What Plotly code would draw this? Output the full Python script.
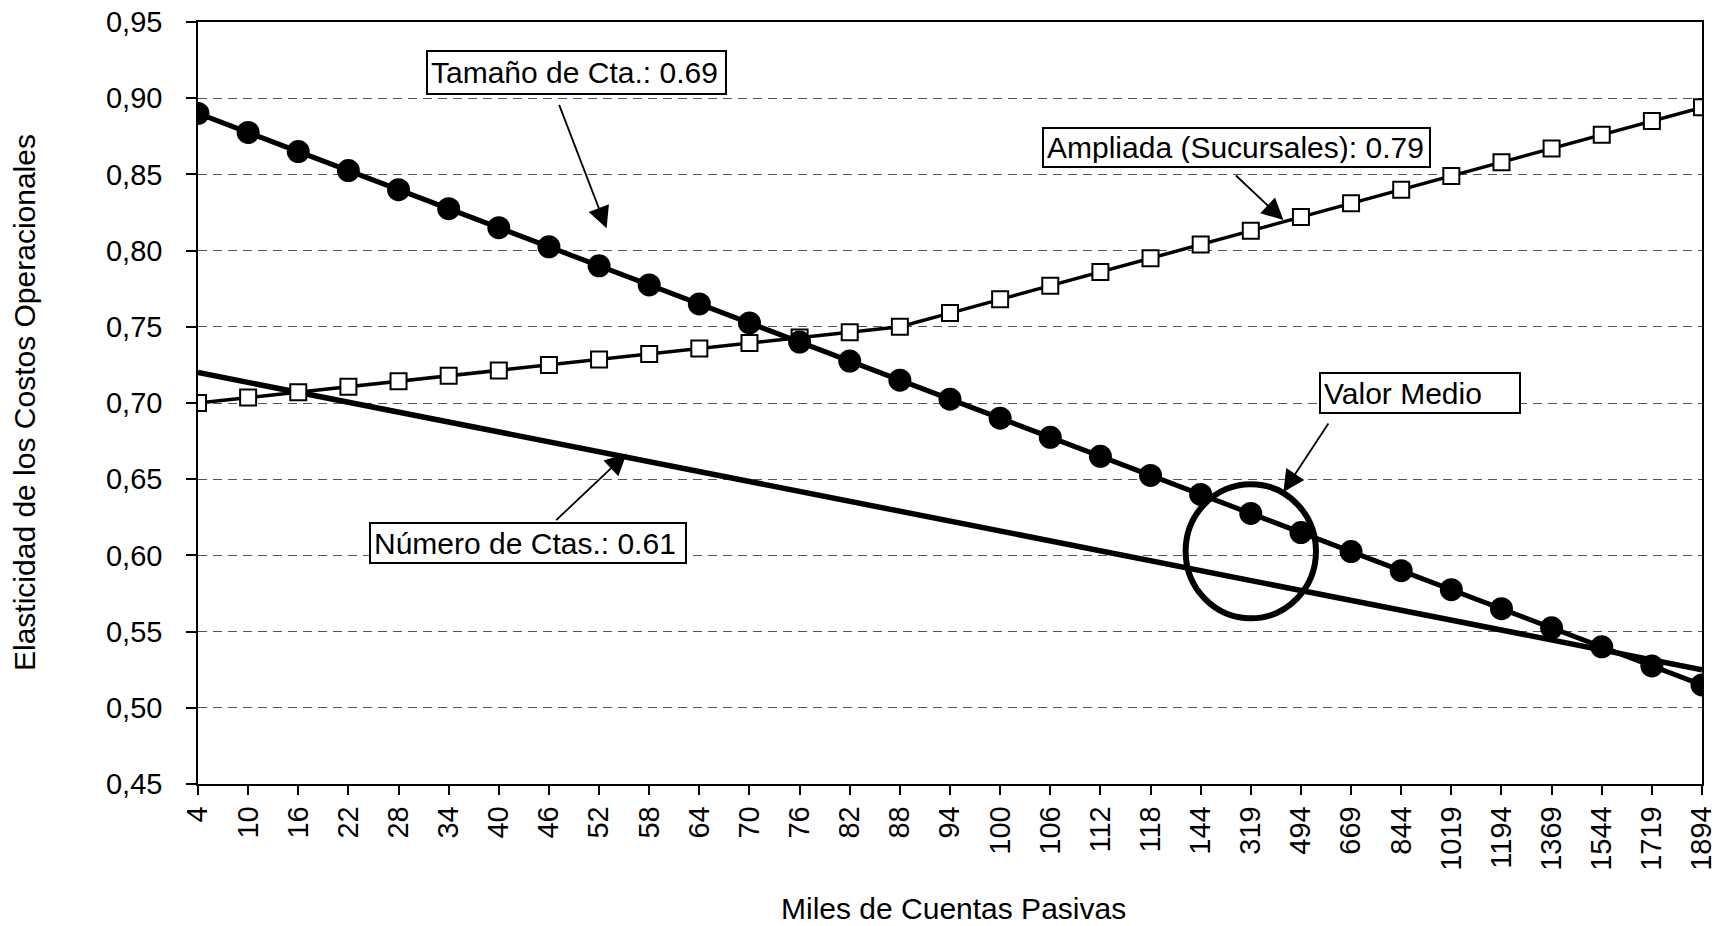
import plotly.graph_objects as go

# ---- data ----
categorias = ["4", "10", "16", "22", "28", "34", "40", "46", "52", "58", "64", "70", "76", "82",
              "88", "94", "100", "106", "112", "118", "144", "319", "494", "669", "844", "1019",
              "1194", "1369", "1544", "1719", "1894"]

tamano_cta = [0.8900, 0.8775, 0.8650, 0.8525, 0.8400, 0.8275, 0.8150, 0.8025, 0.7900, 0.7775,
              0.7650, 0.7525, 0.7400, 0.7275, 0.7150, 0.7025, 0.6900, 0.6775, 0.6650, 0.6525,
              0.6400, 0.6275, 0.6150, 0.6025, 0.5900, 0.5775, 0.5650, 0.5525, 0.5400, 0.5275,
              0.5150]

ampliada_suc = [0.7000, 0.7036, 0.7071, 0.7107, 0.7143, 0.7179, 0.7214, 0.7250, 0.7286, 0.7321,
                0.7357, 0.7393, 0.7429, 0.7464, 0.7500, 0.7590, 0.7680, 0.7770, 0.7860, 0.7950,
                0.8040, 0.8130, 0.8220, 0.8310, 0.8400, 0.8490, 0.8580, 0.8670, 0.8760, 0.8850,
                0.8940]

numero_ctas = [0.7200, 0.7135, 0.7070, 0.7005, 0.6940, 0.6875, 0.6810, 0.6745, 0.6680, 0.6615,
               0.6550, 0.6485, 0.6420, 0.6355, 0.6290, 0.6225, 0.6160, 0.6095, 0.6030, 0.5965,
               0.5900, 0.5835, 0.5770, 0.5705, 0.5640, 0.5575, 0.5510, 0.5445, 0.5380, 0.5315,
               0.5250]

etiquetas = {
    "tamano": "Tamaño de Cta.: 0.69",
    "ampliada": "Ampliada (Sucursales): 0.79",
    "medio": "Valor Medio",
    "numero": "Número de Ctas.: 0.61",
}
titulo_x = "Miles de Cuentas Pasivas"
titulo_y = "Elasticidad de los Costos Operacionales"

# ---- layout geometry (pixels) ----
W, H = 1716, 926
L, R, T, B = 198, 14, 22, 142
PW, PH = W - L - R, H - T - B
FONT = "Arial, Liberation Sans, sans-serif"


def px(x):
    return (x - L) / PW


def py(y):
    return (H - B - y) / PH


fig = go.Figure()

fig.add_trace(go.Scatter(
    x=categorias, y=numero_ctas, mode="lines", name="Número de Ctas.",
    line=dict(color="black", width=5.5), showlegend=False))

fig.add_trace(go.Scatter(
    x=categorias, y=ampliada_suc, mode="lines+markers", name="Ampliada (Sucursales)",
    line=dict(color="black", width=3.5),
    marker=dict(symbol="square", size=16, color="white", line=dict(color="black", width=2)),
    showlegend=False))

fig.add_trace(go.Scatter(
    x=categorias, y=tamano_cta, mode="lines+markers", name="Tamaño de Cta.",
    line=dict(color="black", width=5),
    marker=dict(symbol="circle", size=23, color="black"),
    showlegend=False))

# circle marking the mean value
fig.add_shape(type="circle", xref="x", yref="y",
              x0=21 - 1.30, x1=21 + 1.30, y0=0.6027 - 0.044, y1=0.6027 + 0.044,
              line=dict(color="black", width=6))

# text boxes
boxes = [
    ("tamano", 426, 727, 50, 95),
    ("ampliada", 1042, 1431, 127, 168),
    ("medio", 1319, 1521, 372, 414),
    ("numero", 369, 687, 522, 564),
]
bw, pad = 2, 3
for key, x0, x1, y0, y1 in boxes:
    fig.add_annotation(
        xref="paper", yref="paper", x=px(x0), y=py(y0), xanchor="left", yanchor="top",
        text=etiquetas[key], showarrow=False, align="left", valign="middle",
        width=x1 - x0 - 2 * (bw + pad), height=y1 - y0 - 2 * (bw + pad),
        bordercolor="black", borderwidth=bw, borderpad=pad, bgcolor="white",
        font=dict(family=FONT, size=30, color="black"))

# arrows (head in data coords, tail as pixel offset)
arrows = [
    (8.15, 0.8146, -48, -125),
    (21.65, 0.8200, -49, -46),
    (21.65, 0.6416, 46, -70),
    (8.55, 0.6668, -72, 68),
]
for hx, hy, ax, ay in arrows:
    fig.add_annotation(
        xref="x", yref="y", x=hx, y=hy, ax=ax, ay=ay, text="", showarrow=True,
        arrowhead=2, arrowsize=2.4, arrowwidth=1.8, arrowcolor="black", standoff=0)

# axis titles
fig.add_annotation(xref="paper", yref="paper", x=px(24), y=0.5, text=titulo_y,
                   textangle=-90, showarrow=False, xanchor="center", yanchor="middle",
                   font=dict(family=FONT, size=30, color="black"))
fig.add_annotation(xref="paper", yref="paper", x=px(953), y=py(908), text=titulo_x,
                   showarrow=False, xanchor="center", yanchor="middle",
                   font=dict(family=FONT, size=30, color="black"))

fig.update_xaxes(
    type="category", range=[0, 30], showgrid=False, zeroline=False,
    showline=True, linecolor="black", linewidth=1.5, mirror=True,
    ticks="outside", ticklen=9, tickwidth=1.5, tickcolor="black",
    tickangle=-90, ticklabelstandoff=0,
    tickfont=dict(family=FONT, size=29, color="black"))

fig.update_yaxes(
    range=[0.45, 0.95], dtick=0.05, tick0=0.45, tickformat=".2f",
    showgrid=True, gridcolor="#555555", gridwidth=1, griddash="9px,6px",
    zeroline=False, showline=True, linecolor="black", linewidth=1.5, mirror=True,
    ticks="outside", ticklen=10, tickwidth=1.5, tickcolor="black",
    ticklabelstandoff=18,
    tickfont=dict(family=FONT, size=29, color="black"))

fig.update_layout(
    width=W, height=H, autosize=False,
    margin=dict(l=L, r=R, t=T, b=B, autoexpand=False),
    paper_bgcolor="white", plot_bgcolor="white",
    separators=",.",
    font=dict(family=FONT, color="black"),
    showlegend=False)

fig.write_html("out.html", config={"displayModeBar": False},
               post_script="document.body.style.margin='0px';document.body.style.overflow='hidden';")
